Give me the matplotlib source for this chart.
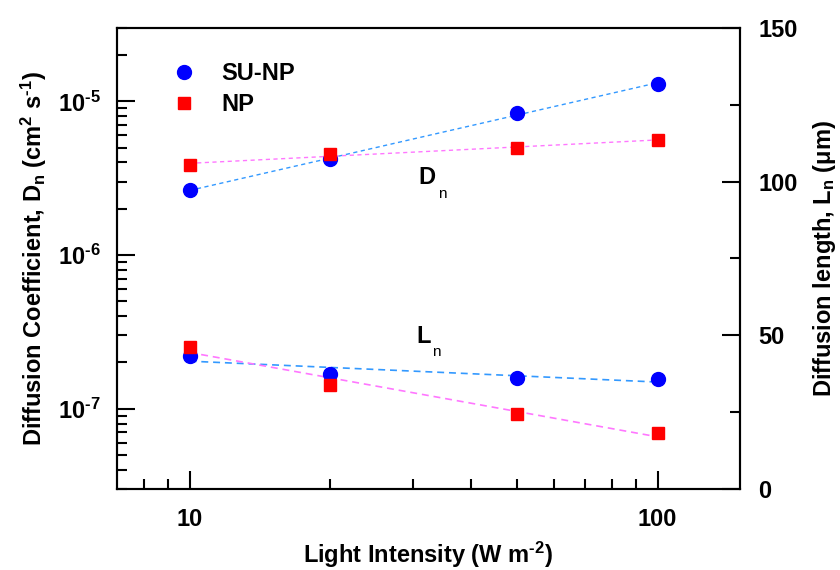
import numpy as np
import matplotlib
matplotlib.use('Agg')
import matplotlib.pyplot as plt
from matplotlib.ticker import FixedLocator, NullFormatter, FuncFormatter, MultipleLocator
from matplotlib.lines import Line2D

plt.rcParams['font.family'] = ['Liberation Sans', 'DejaVu Sans']
plt.rcParams['font.weight'] = 'bold'
plt.rcParams['axes.labelweight'] = 'bold'
plt.rcParams['font.size'] = 17
plt.rcParams['mathtext.fontset'] = 'custom'
plt.rcParams['mathtext.rm'] = 'Liberation Sans:bold'
plt.rcParams['mathtext.it'] = 'Liberation Sans:bold'
plt.rcParams['mathtext.bf'] = 'Liberation Sans:bold'
plt.rcParams['mathtext.default'] = 'rm'
plt.rcParams['lines.scale_dashes'] = False

# light intensity (W m-2)
intensity = [10, 20, 50, 100]
# diffusion coefficient (cm2 s-1)
dn_su_np = [2.63e-6, 4.22e-6, 8.36e-6, 1.30e-5]
dn_np = [3.86e-6, 4.55e-6, 5.00e-6, 5.58e-6]
# diffusion length (um)
ln_su_np = [43.3, 37.4, 36.2, 35.9]
ln_np = [46.3, 33.8, 24.5, 18.2]

BLUE = '#0000ff'
RED = '#ff0000'
BLUE_LINE = '#3399ff'
PINK_LINE = '#ff77ff'

fig = plt.figure(figsize=(8.4, 5.7), dpi=100)
ax = fig.add_axes([0.1393, 0.1421, 0.7417, 0.8088])
ax2 = ax.twinx()

x = np.array(intensity, dtype=float)
xfit = np.logspace(np.log10(x.min()), np.log10(x.max()), 60)

# power-law fits for Dn (straight on log-log)
for vals, col in [(dn_su_np, BLUE_LINE), (dn_np, PINK_LINE)]:
    p = np.polyfit(np.log10(x), np.log10(vals), 1)
    ax.plot(xfit, 10 ** np.polyval(p, np.log10(xfit)), color=col, lw=1.0,
            dashes=(3, 2.5), zorder=2)
ax.plot(intensity, dn_su_np, 'o', color=BLUE, ms=10, zorder=3)
ax.plot(intensity, dn_np, 's', color=RED, ms=9, zorder=3)

# semi-log fits for Ln
for vals, col in [(ln_su_np, BLUE_LINE), (ln_np, PINK_LINE)]:
    p = np.polyfit(np.log10(x), vals, 1)
    ax2.plot(xfit, np.polyval(p, np.log10(xfit)), color=col, lw=1.2,
             dashes=(5, 3.5), zorder=2)
ax2.plot(intensity, ln_su_np, 'o', color=BLUE, ms=10, zorder=3)
ax2.plot(intensity, ln_np, 's', color=RED, ms=9, zorder=3)

ax.set_xscale('log')
ax.set_yscale('log')
ax.set_xlim(7, 150)
ax.set_ylim(3e-8, 3e-5)
ax2.set_ylim(0, 150)

ax.xaxis.set_major_locator(FixedLocator([10, 100]))
ax.xaxis.set_minor_locator(FixedLocator([8, 9] + list(range(20, 100, 10))))
ax.xaxis.set_major_formatter(FuncFormatter(lambda v, p: '%d' % v))
ax.xaxis.set_minor_formatter(NullFormatter())

decades = [1e-7, 1e-6, 1e-5]
minors = [m * d for d in [1e-8, 1e-7, 1e-6, 1e-5] for m in range(2, 10)]
ax.yaxis.set_major_locator(FixedLocator(decades))
ax.yaxis.set_minor_locator(FixedLocator(minors))
ax.yaxis.set_major_formatter(
    FuncFormatter(lambda v, p: r'$10^{\text{-}%d}$' % abs(round(np.log10(v)))))
ax.yaxis.set_minor_formatter(NullFormatter())

ax2.yaxis.set_major_locator(MultipleLocator(50))
ax2.yaxis.set_minor_locator(MultipleLocator(25))

for a in (ax, ax2):
    for s in a.spines.values():
        s.set_linewidth(1.5)
    a.tick_params(which='major', direction='in', length=13, width=1.5,
                  labelsize=17, pad=12)
    a.tick_params(which='minor', direction='in', length=7.5, width=1.5)
ax.tick_params(axis='y', which='both', right=False)
ax.tick_params(axis='x', which='both', top=False, pad=14)
ax.tick_params(axis='y', which='major', pad=12)
ax2.tick_params(axis='y', which='major', pad=13)

ax.set_xlabel(r'Light Intensity (W m$^{\text{-}2}$)', fontsize=17, labelpad=6)
ax.set_ylabel(r'Diffusion Coefficient, D$_{n}$ (cm$^{2}$ s$^{\text{-}1}$)',
              fontsize=17, labelpad=6)
ax2.set_ylabel(r'Diffusion length, L$_{n}$ ($\mu$m)', fontsize=17,
               labelpad=10)

# curve annotations
ax.text(0.483, 0.675, 'D', transform=ax.transAxes, fontsize=17,
        ha='left', va='center')
ax.text(0.515, 0.64, 'n', transform=ax.transAxes, fontsize=11,
        fontweight='normal', ha='left', va='center')
ax.text(0.481, 0.33, 'L', transform=ax.transAxes, fontsize=17,
        ha='left', va='center')
ax.text(0.505, 0.297, 'n', transform=ax.transAxes, fontsize=11,
        fontweight='normal', ha='left', va='center')

handles = [Line2D([], [], ls='none', marker='o', color=BLUE, ms=10),
           Line2D([], [], ls='none', marker='s', color=RED, ms=9)]
ax.legend(handles, ['SU-NP', 'NP'], loc='upper left',
          bbox_to_anchor=(0.069, 0.952), frameon=False, borderpad=0,
          handlelength=1.0, handletextpad=1.1, labelspacing=0.35,
          fontsize=17)

fig.savefig('out.png', dpi=100)
